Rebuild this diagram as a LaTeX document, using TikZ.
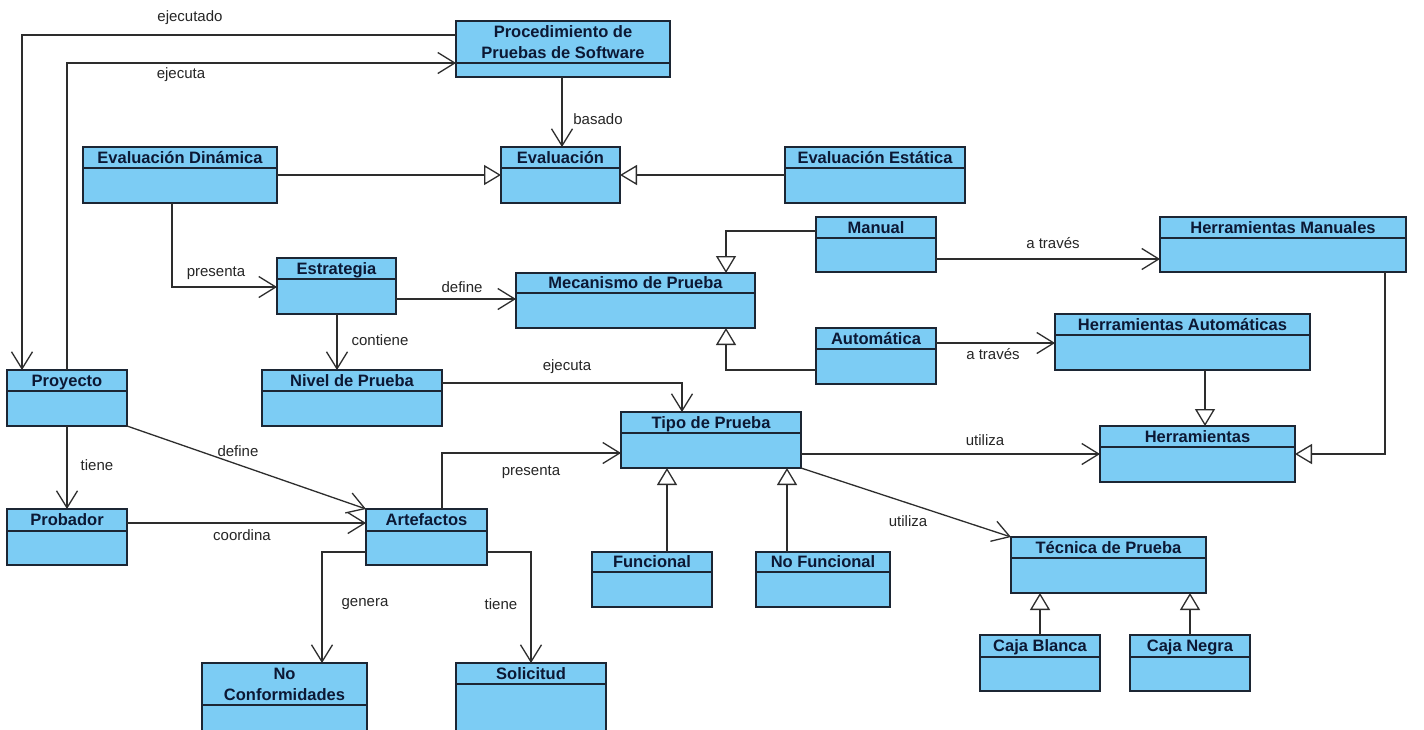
\documentclass[tikz,border=0pt]{standalone}
\usepackage{fontspec}
\setmainfont{Liberation Sans}
\usetikzlibrary{arrows.meta}
\definecolor{boxfill}{RGB}{124,204,244}
\definecolor{boxline}{RGB}{28,38,52}
\definecolor{titlecol}{RGB}{12,24,52}
\definecolor{linkcol}{RGB}{45,45,45}
\tikzset{
  umlbox/.style={draw=boxline, line width=1.4pt, fill=boxfill, inner sep=0pt, outer sep=0pt},
  umldiv/.style={draw=boxline, line width=1.2pt},
  umltitle/.style={font=\fontsize{16.5}{21}\selectfont\bfseries, text=titlecol, align=center, inner sep=0pt, text height=11.8pt, text depth=0pt},
  umltitletwo/.style={font=\fontsize{16.5}{21}\selectfont\bfseries, text=titlecol, align=center, inner sep=0pt},
  lbl/.style={font=\fontsize{15}{17}\selectfont, text=black!85, inner sep=0pt},
  assoc/.style={draw=linkcol, line width=1.3pt, -{Straight Barb[length=17pt,width=21pt]}},
  gener/.style={draw=linkcol, line width=1.3pt, -{Triangle[length=17pt,width=20pt,fill=white]}},
}
% name, x1, y1, x2, y2, ydiv, title style, text
\newcommand\UmlBox[8]{%
  \node[umlbox, minimum width={(#4-#2)*1pt}, minimum height={(#5-#3)*1pt}, anchor=north west] (#1) at (#2,#3) {};
  \draw[umldiv] (#1.west |- #2,#6) -- (#1.east |- #2,#6);
  \node[#7] (#1-t) at ({(#2+#4)/2},{(#3+#6)/2}) {#8};
}
\begin{document}
\begin{tikzpicture}[x=1pt,y=-1pt]
\fill[white] (0,0) rectangle (1424,729);
\useasboundingbox (0,0) rectangle (1424,729);
\begin{scope}
\clip (0,0) rectangle (1424,729);
% boxes
\UmlBox{proc}{456}{21}{670}{77}{63}{umltitletwo}{Procedimiento de\\Pruebas de Software}
\UmlBox{eval}{501}{147}{620}{203}{168}{umltitle}{Evaluación}
\UmlBox{evdin}{83}{147}{277}{203}{168}{umltitle}{Evaluación Dinámica}
\UmlBox{evest}{785}{147}{965}{203}{168}{umltitle}{Evaluación Estática}
\UmlBox{manual}{816}{217}{936}{272}{238}{umltitle}{Manual}
\UmlBox{hman}{1160}{217}{1406}{272}{238}{umltitle}{Herramientas Manuales}
\UmlBox{estr}{277}{258}{396}{314}{279}{umltitle}{Estrategia}
\UmlBox{mec}{516}{273}{755}{328}{293}{umltitle}{Mecanismo de Prueba}
\UmlBox{auto}{816}{328}{936}{384}{349}{umltitle}{Automática}
\UmlBox{haut}{1055}{314}{1310}{370}{335}{umltitle}{Herramientas Automáticas}
\UmlBox{proy}{7}{370}{127}{426}{391}{umltitle}{Proyecto}
\UmlBox{nivel}{262}{370}{442}{426}{391}{umltitle}{Nivel de Prueba}
\UmlBox{tipo}{621}{412}{801}{468}{433}{umltitle}{Tipo de Prueba}
\UmlBox{herr}{1100}{426}{1295}{482}{447}{umltitle}{Herramientas}
\UmlBox{prob}{7}{509}{127}{565}{531}{umltitle}{Probador}
\UmlBox{art}{366}{509}{487}{565}{531}{umltitle}{Artefactos}
\UmlBox{func}{592}{552}{712}{607}{572}{umltitle}{Funcional}
\UmlBox{nofunc}{756}{552}{890}{607}{572}{umltitle}{No Funcional}
\UmlBox{tec}{1011}{537}{1206}{593}{558}{umltitle}{Técnica de Prueba}
\UmlBox{cb}{980}{635}{1100}{691}{657}{umltitle}{Caja Blanca}
\UmlBox{cn}{1130}{635}{1250}{691}{657}{umltitle}{Caja Negra}
\UmlBox{noconf}{202}{663}{367}{745}{705}{umltitletwo}{No\\Conformidades}
\UmlBox{sol}{456}{663}{606}{745}{684}{umltitle}{Solicitud}
% connectors
\draw[assoc] (proc.west |- 0,35) -| (proy.north -| 22,0);
\draw[assoc] (proy.north -| 67,0) |- (proc.west |- 0,63);
\draw[assoc] (proc.south -| 562,0) -- (eval.north -| 562,0);
\draw[gener] (evdin.east |- 0,175) -- (eval.west |- 0,175);
\draw[gener] (evest.west |- 0,175) -- (eval.east |- 0,175);
\draw[assoc] (evdin.south -| 172,0) |- (estr.west |- 0,287);
\draw[assoc] (estr.east |- 0,299) -- (mec.west |- 0,299);
\draw[assoc] (estr.south -| 337,0) -- (nivel.north -| 337,0);
\draw[gener] (manual.west |- 0,231) -| (mec.north -| 726,0);
\draw[gener] (auto.west |- 0,370) -| (mec.south -| 726,0);
\draw[assoc] (manual.east |- 0,259) -- (hman.west |- 0,259);
\draw[assoc] (auto.east |- 0,343) -- (haut.west |- 0,343);
\draw[gener] (haut.south -| 1205,0) -- (herr.north -| 1205,0);
\draw[gener] (hman.south -| 1385,0) |- (herr.east |- 0,454);
\draw[assoc] (nivel.east |- 0,383) -| (tipo.north -| 682,0);
\draw[assoc] (tipo.east |- 0,454) -- (herr.west |- 0,454);
\draw[assoc] (tipo.south east) -- (tec.north west);
\draw[assoc] (proy.south -| 67,0) -- (prob.north -| 67,0);
\draw[assoc] (proy.south east) -- (art.north west);
\draw[assoc] (prob.east |- 0,523) -- (art.west |- 0,523);
\draw[assoc] (art.north -| 442,0) |- (tipo.west |- 0,453);
\draw[assoc] (art.west |- 0,552) -| (noconf.north -| 322,0);
\draw[assoc] (art.east |- 0,552) -| (sol.north -| 531,0);
\draw[gener] (func.north -| 667,0) -- (tipo.south -| 667,0);
\draw[gener] (nofunc.north -| 787,0) -- (tipo.south -| 787,0);
\draw[gener] (cb.north -| 1040,0) -- (tec.south -| 1040,0);
\draw[gener] (cn.north -| 1190,0) -- (tec.south -| 1190,0);
% labels
\node[lbl] (l1) at (190,18) {ejecutado};
\node[lbl] (l2) at (181,75) {ejecuta};
\node[lbl] (l3) at (598,119) {basado};
\node[lbl] (l4) at (216,273) {presenta};
\node[lbl] (l5) at (462,287) {define};
\node[lbl] (l6) at (380,340) {contiene};
\node[lbl] (l7) at (1053,243) {a través};
\node[lbl] (l8) at (993,354) {a través};
\node[lbl] (l9) at (567,367) {ejecuta};
\node[lbl] (l10) at (97,465) {tiene};
\node[lbl] (l11) at (238,451) {define};
\node[lbl] (l12) at (531,472) {presenta};
\node[lbl] (l13) at (985,440) {utiliza};
\node[lbl] (l14) at (908,521) {utiliza};
\node[lbl] (l15) at (242,535) {coordina};
\node[lbl] (l16) at (365,604) {genera};
\node[lbl] (l17) at (501,604) {tiene};
\end{scope}
\end{tikzpicture}
\end{document}
